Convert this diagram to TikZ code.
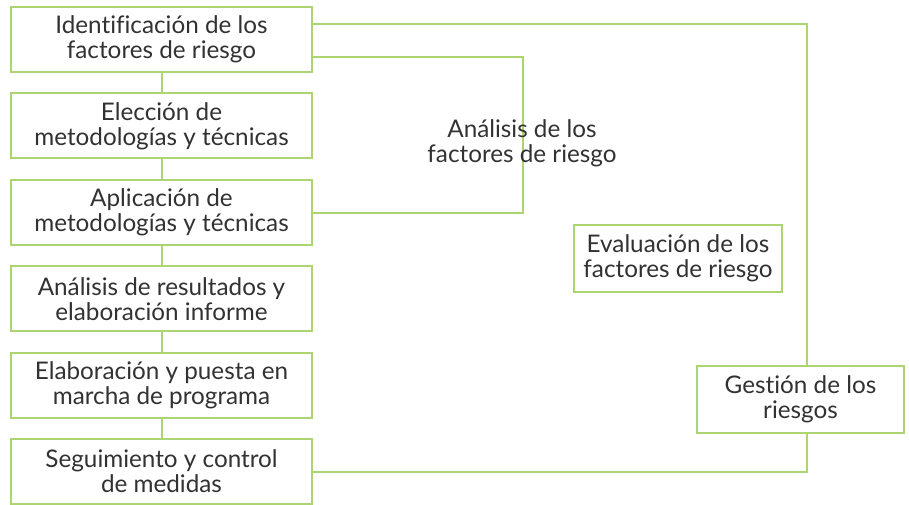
\documentclass[tikz,border=0pt]{standalone}
\usepackage{fontspec}
\setmainfont{Lato}[Ligatures=NoCommon]
\usepackage{tikz}
\definecolor{verde}{RGB}{172,212,112}
\definecolor{texto}{RGB}{50,50,50}

\begin{document}
\begin{tikzpicture}[x=0.75pt,y=-0.75pt,
    linea/.style={draw=verde,line width=1.5pt},
    caja/.style={linea,fill=white,text=texto,align=center,inner sep=0pt,
      minimum width=225.75pt,minimum height=48.75pt,
      font=\fontsize{18.2}{18.75}\selectfont},
    cajita/.style={caja,minimum width=155.5pt,minimum height=50pt}]
  \useasboundingbox (0,0) rectangle (909,505);
  % columna de la izquierda
  \foreach \n/\y/\t in {1/39.75/{Identificación de los\\factores de riesgo},
      2/126/{Elección de\\metodologías y técnicas},
      3/212.75/{Aplicación de\\metodologías y técnicas},
      4/299/{Análisis de resultados y\\elaboración informe},
      5/385.5/{Elaboración y puesta en\\marcha de programa},
      6/471.5/{Seguimiento y control\\de medidas}}{
    \node[caja] (b\n) at (161.5,\y) {\t};
    }
  \foreach \a/\b in {1/2,2/3,3/4,4/5,5/6}
    \draw[linea] (b\a) -- (b\b);
  % derecha
  \node[cajita] (eval) at (678,258.5) {Evaluación de los\\factores de riesgo};
  \node[cajita] (gest) at (800.5,399.5) {Gestión de los\\riesgos};
  \coordinate (ka) at (523,57);
  \coordinate (kb) at (806.5,24);
  \draw[linea] (b1.east |- ka) -- (ka) |- (b3.east);
  \draw[linea] (b1.east |- kb) -- (kb) -- (kb |- gest.north);
  \draw[linea] (b6.east) -| (kb |- gest.south);
  \node[text=texto,align=center,font=\fontsize{18.2}{18.75}\selectfont] (anal) at (522,143)
    {Análisis de los\\factores de riesgo};
\end{tikzpicture}
\end{document}
